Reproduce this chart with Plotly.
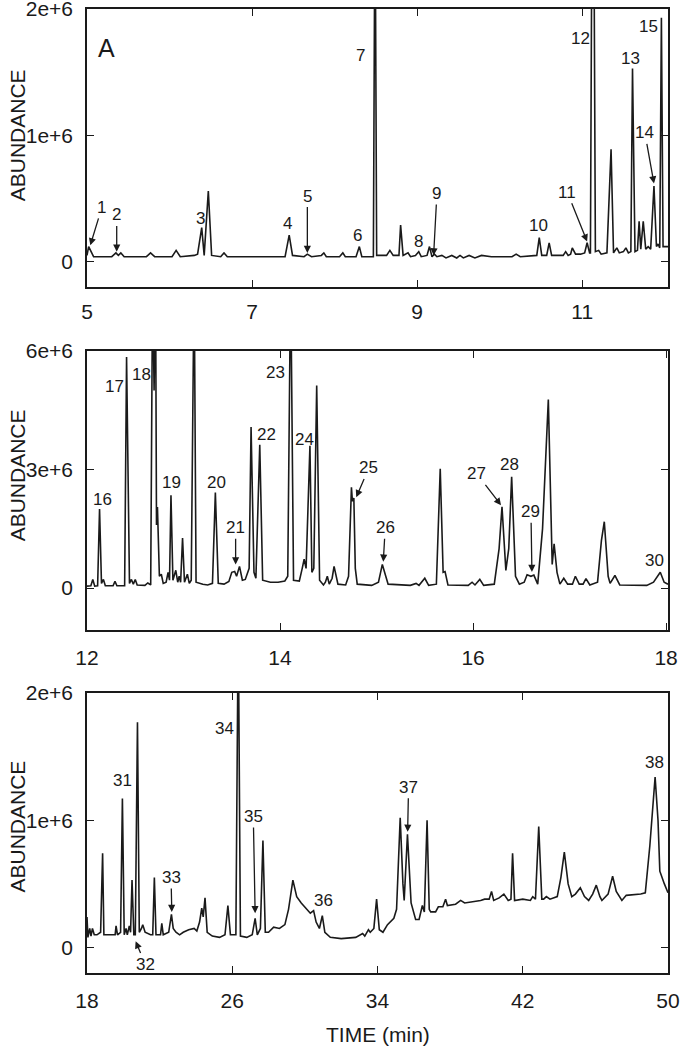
import plotly.graph_objects as go

# ---------------- data (abundance in units of 1e6) ----------------
TIME_A = [5.00, 5.02, 5.08, 5.30, 5.35, 5.38, 5.41, 5.45, 5.72, 5.77, 5.82, 6.03, 6.08, 6.13,
          6.30, 6.34, 6.39, 6.42, 6.47, 6.51, 6.62, 6.66, 6.70, 7.40, 7.45, 7.49, 7.63, 7.67,
          7.72, 7.84, 7.87, 7.90, 8.06, 8.10, 8.13, 8.26, 8.30, 8.33, 8.47, 8.49, 8.51, 8.63,
          8.67, 8.71, 8.78, 8.80, 8.83, 8.89, 8.92, 8.98, 9.02, 9.05, 9.12, 9.15, 9.18, 9.21,
          9.24, 9.30, 9.35, 9.42, 9.48, 9.52, 9.56, 9.63, 9.70, 9.78, 9.90, 10.15, 10.20, 10.25,
          10.45, 10.48, 10.51, 10.57, 10.60, 10.63, 10.77, 10.80, 10.83, 10.86, 10.88, 10.92,
          10.98, 11.03, 11.06, 11.09, 11.10, 11.12, 11.13, 11.14, 11.16, 11.20, 11.23, 11.30,
          11.35, 11.38, 11.42, 11.45, 11.50, 11.53, 11.56, 11.59, 11.61, 11.64, 11.67, 11.69,
          11.71, 11.74, 11.77, 11.80, 11.83, 11.87, 11.90, 11.92, 11.94, 11.96, 11.98, 12.04]
ABUND_A = [0.05, 0.12, 0.04, 0.04, 0.07, 0.05, 0.07, 0.04, 0.04, 0.07, 0.04, 0.04, 0.09, 0.04,
           0.05, 0.06, 0.27, 0.05, 0.56, 0.05, 0.04, 0.07, 0.04, 0.04, 0.21, 0.05, 0.04, 0.06,
           0.04, 0.05, 0.07, 0.04, 0.04, 0.07, 0.04, 0.04, 0.12, 0.04, 0.04, 3.00, 0.05, 0.05,
           0.09, 0.05, 0.05, 0.29, 0.05, 0.07, 0.04, 0.05, 0.08, 0.04, 0.05, 0.12, 0.04, 0.06,
           0.04, 0.05, 0.03, 0.05, 0.03, 0.05, 0.03, 0.05, 0.03, 0.05, 0.04, 0.04, 0.06, 0.04,
           0.05, 0.19, 0.05, 0.05, 0.15, 0.05, 0.05, 0.08, 0.05, 0.06, 0.11, 0.06,
           0.06, 0.07, 0.15, 0.07, 0.07, 3.00, 2.20, 3.00, 0.08, 0.09, 0.06, 0.07,
           0.89, 0.07, 0.11, 0.07, 0.08, 0.11, 0.07, 0.08, 1.53, 0.08, 0.09, 0.32,
           0.10, 0.32, 0.10, 0.12, 0.10, 0.60, 0.12, 0.14, 0.11, 1.93, 0.12, 0.12]

TIME_B = [12.00, 12.04, 12.06, 12.08, 12.11, 12.13, 12.15, 12.17, 12.19, 12.27, 12.29, 12.31,
          12.39, 12.41, 12.44, 12.46, 12.48, 12.50, 12.52, 12.60, 12.63, 12.65, 12.66, 12.68,
          12.695, 12.71, 12.72, 12.73, 12.75, 12.77, 12.79, 12.82, 12.84, 12.855, 12.87, 12.89,
          12.92, 12.94, 12.955, 12.97, 12.99, 13.01, 13.04, 13.06, 13.08, 13.11, 13.13, 13.20,
          13.25, 13.30, 13.33, 13.36, 13.42, 13.47, 13.50, 13.53, 13.55, 13.58, 13.61, 13.64,
          13.68, 13.70, 13.73, 13.75, 13.79, 13.82, 13.90, 13.98, 14.05, 14.08, 14.11, 14.14,
          14.20, 14.23, 14.25, 14.27, 14.31, 14.33, 14.35, 14.38, 14.41, 14.45, 14.47, 14.49,
          14.51, 14.54, 14.56, 14.60, 14.68, 14.71, 14.74, 14.75, 14.765, 14.78, 14.80, 14.95,
          15.00, 15.02, 15.06, 15.09, 15.12, 15.35, 15.41, 15.44, 15.50, 15.54, 15.62, 15.66,
          15.69, 15.71, 15.74, 15.95, 15.99, 16.02, 16.07, 16.11, 16.22, 16.27, 16.30, 16.34,
          16.37, 16.40, 16.44, 16.48, 16.53, 16.56, 16.60, 16.63, 16.67, 16.72, 16.78, 16.82,
          16.84, 16.87, 16.90, 16.94, 16.98, 17.03, 17.06, 17.10, 17.14, 17.17, 17.21, 17.29,
          17.33, 17.36, 17.40, 17.42, 17.47, 17.52, 17.80, 17.87, 17.94, 17.98, 18.02]
ABUND_B = [0.05, 0.06, 0.22, 0.05, 0.06, 2.00, 0.12, 0.22, 0.06, 0.06, 0.17, 0.06,
           0.06, 5.85, 0.12, 0.22, 0.10, 0.22, 0.08, 0.07, 0.13, 0.08, 0.08, 8.00,
           5.00, 8.00, 1.60, 2.05, 0.30, 0.35, 0.12, 0.15, 0.40, 0.20, 2.35, 0.20,
           0.45, 0.15, 0.30, 0.15, 1.27, 0.15, 0.35, 0.12, 0.20, 8.00, 0.15, 0.10,
           0.08, 0.12, 2.42, 0.12, 0.10, 0.17, 0.40, 0.42, 0.30, 0.55, 0.20, 0.22,
           0.50, 4.08, 0.40, 0.25, 3.63, 0.20, 0.15, 0.15, 0.18, 0.30, 8.00, 0.20,
           0.18, 0.50, 0.73, 0.50, 3.60, 0.40, 0.50, 5.13, 0.20, 0.08, 0.15, 0.30,
           0.10, 0.25, 0.55, 0.10, 0.08, 0.30, 2.55, 2.20, 2.28, 0.50, 0.10, 0.07,
           0.12, 0.15, 0.60, 0.35, 0.10, 0.07, 0.12, 0.07, 0.25, 0.07, 0.10, 3.02,
           0.40, 0.42, 0.08, 0.07, 0.15, 0.08, 0.22, 0.07, 0.10, 1.00, 2.06, 0.45,
           1.00, 2.82, 0.30, 0.10, 0.15, 0.34, 0.30, 0.33, 0.10, 1.50, 4.77, 0.60,
           1.12, 0.40, 0.10, 0.25, 0.10, 0.10, 0.30, 0.10, 0.10, 0.24, 0.08, 0.15,
           1.20, 1.68, 0.30, 0.12, 0.32, 0.08, 0.07, 0.15, 0.40, 0.15, 0.10]

TIME_C = [18.00, 18.05, 18.15, 18.22, 18.30, 18.40, 18.55, 18.75, 18.86, 18.93, 19.30, 19.55,
          19.60, 19.68, 19.85, 19.95, 20.05, 20.15, 20.22, 20.33, 20.40, 20.48, 20.58, 20.66,
          20.78, 20.88, 21.00, 21.07, 21.20, 21.50, 21.62, 21.71, 21.80, 22.05, 22.12, 22.20,
          22.50, 22.65, 22.75, 22.90, 23.10, 23.30, 23.60, 23.90, 24.05, 24.20, 24.32, 24.40,
          24.50, 24.62, 24.90, 25.30, 25.60, 25.76, 25.90, 26.20, 26.33, 26.45, 26.80, 27.10,
          27.26, 27.38, 27.55, 27.69, 27.82, 28.00, 28.28, 28.60, 28.90, 29.10, 29.34, 29.55,
          29.80, 30.10, 30.30, 30.48, 30.62, 30.80, 30.96, 31.10, 31.40, 32.00, 32.80, 33.18,
          33.30, 33.50, 33.60, 33.80, 33.95, 34.10, 34.30, 34.55, 34.73, 34.90, 35.05, 35.25,
          35.40, 35.47, 35.65, 35.85, 36.10, 36.29, 36.47, 36.58, 36.73, 36.85, 36.93, 37.20,
          37.35, 37.60, 37.75, 37.85, 38.30, 38.58, 38.80, 39.30, 39.68, 39.90, 40.15, 40.28,
          40.40, 40.70, 40.96, 41.20, 41.35, 41.44, 41.55, 42.00, 42.42, 42.55, 42.70, 42.88,
          43.05, 43.15, 43.30, 43.50, 43.90, 44.10, 44.29, 44.50, 44.70, 44.90, 45.17, 45.40,
          45.63, 45.85, 46.05, 46.25, 46.36, 46.70, 46.95, 47.15, 47.46, 47.70, 48.50, 48.75,
          49.00, 49.29, 49.45, 49.55, 49.62, 49.80, 50.00]
ABUND_C = [0.24, 0.08, 0.15, 0.09, 0.15, 0.10, 0.10, 0.12, 0.74, 0.10, 0.10, 0.10,
           0.17, 0.10, 0.12, 1.17, 0.10, 0.15, 0.10, 0.17, 0.12, 0.53, 0.10, 0.10,
           1.77, 0.12, 0.15, 0.18, 0.12, 0.10, 0.10, 0.55, 0.10, 0.10, 0.19, 0.10,
           0.12, 0.26, 0.15, 0.12, 0.10, 0.12, 0.14, 0.15, 0.13, 0.20, 0.31, 0.24,
           0.39, 0.12, 0.09, 0.08, 0.10, 0.33, 0.10, 0.10, 2.60, 0.09, 0.08, 0.10,
           0.23, 0.10, 0.15, 0.84, 0.12, 0.12, 0.16, 0.15, 0.18, 0.30, 0.53, 0.40,
           0.35, 0.30, 0.27, 0.29, 0.20, 0.15, 0.25, 0.12, 0.08, 0.07, 0.08, 0.11,
           0.09, 0.14, 0.12, 0.15, 0.38, 0.14, 0.12, 0.18, 0.21, 0.23, 0.30, 1.02,
           0.50, 0.37, 0.89, 0.35, 0.22, 0.22, 0.33, 0.28, 1.00, 0.30, 0.28, 0.28,
           0.32, 0.32, 0.38, 0.33, 0.34, 0.37, 0.35, 0.36, 0.37, 0.38, 0.38, 0.44,
           0.37, 0.39, 0.42, 0.37, 0.38, 0.74, 0.37, 0.38, 0.37, 0.40, 0.38, 0.95,
           0.38, 0.38, 0.40, 0.38, 0.40, 0.55, 0.75, 0.50, 0.40, 0.42, 0.47, 0.40,
           0.37, 0.42, 0.49, 0.40, 0.37, 0.42, 0.56, 0.44, 0.37, 0.41, 0.42, 0.43,
           0.80, 1.34, 1.00, 0.60, 0.57, 0.50, 0.43]

# peak labels: (text, label_time, label_abund, arrow_tip_time, arrow_tip_abund)
LABELS_A = [("1", 5.18, 0.43, 5.04, 0.13), ("2", 5.36, 0.37, 5.36, 0.08), ("3", 6.37, 0.34, None, None),
            ("4", 7.43, 0.30, None, None), ("5", 7.67, 0.52, 7.67, 0.07), ("6", 8.28, 0.21, None, None),
            ("7", 8.32, 1.63, None, None), ("8", 9.02, 0.16, None, None), ("9", 9.24, 0.54, 9.20, 0.05),
            ("10", 10.47, 0.29, None, None), ("11", 10.82, 0.55, 11.06, 0.16), ("12", 10.98, 1.77, None, None),
            ("13", 11.58, 1.61, None, None), ("14", 11.76, 1.02, 11.87, 0.62), ("15", 11.80, 1.86, None, None)]
LABELS_B = [("16", 12.16, 2.23, None, None), ("17", 12.29, 5.10, None, None), ("18", 12.56, 5.40, None, None),
            ("19", 12.88, 2.67, None, None), ("20", 13.34, 2.67, None, None), ("21", 13.54, 1.53, 13.54, 0.60),
            ("22", 13.86, 3.88, None, None), ("23", 13.95, 5.45, None, None), ("24", 14.25, 3.75, None, None),
            ("25", 14.92, 3.04, 14.79, 2.30), ("26", 15.09, 1.53, 15.07, 0.67), ("27", 16.04, 2.89, 16.29, 2.10),
            ("28", 16.38, 3.14, None, None), ("29", 16.60, 1.93, 16.61, 0.41), ("30", 17.88, 0.69, None, None)]
LABELS_C = [("31", 19.93, 1.31, None, None), ("32", 21.20, -0.13, 20.68, 0.05), ("33", 22.63, 0.55, 22.67, 0.28),
            ("34", 25.56, 1.72, None, None), ("35", 27.16, 1.03, 27.26, 0.27), ("36", 31.02, 0.37, None, None),
            ("37", 35.71, 1.26, 35.66, 0.91), ("38", 49.23, 1.45, None, None)]

SCALE = 1e6
FONT = "Liberation Sans, Arial, sans-serif"
INK = "#1a1a1a"

fig = go.Figure()
panels = [("x", "y", TIME_A, ABUND_A, LABELS_A),
          ("x2", "y2", TIME_B, ABUND_B, LABELS_B),
          ("x3", "y3", TIME_C, ABUND_C, LABELS_C)]

annotations = []
for xr, yr, t, a, labs in panels:
    fig.add_trace(go.Scatter(x=t, y=[v * SCALE for v in a], mode="lines", xaxis=xr, yaxis=yr,
                             line=dict(color=INK, width=1.6), showlegend=False, hoverinfo="skip"))
    for text, lx, ly, tx, ty in labs:
        if tx is None:
            annotations.append(dict(xref=xr, yref=yr, x=lx, y=ly * SCALE, text=text, showarrow=False,
                                    font=dict(size=17, color=INK, family=FONT)))
        else:
            annotations.append(dict(xref=xr, yref=yr, x=tx, y=ty * SCALE, axref=xr, ayref=yr,
                                    ax=lx, ay=ly * SCALE, text=text, showarrow=True, arrowhead=2,
                                    arrowsize=1.1, arrowwidth=1.3, arrowcolor=INK, standoff=0,
                                    font=dict(size=17, color=INK, family=FONT)))

annotations.append(dict(xref="x", yref="y", x=5.24, y=1.69e6, text="A", showarrow=False,
                        font=dict(size=25, color=INK, family=FONT)))
for yr, mid in [("y", 1.0e6), ("y2", 2.85e6), ("y3", 0.95e6)]:
    annotations.append(dict(xref="paper", yref=yr, x=-0.119, y=mid, text="ABUNDANCE", textangle=-90,
                            showarrow=False, xanchor="center", yanchor="middle",
                            font=dict(size=21, color=INK, family=FONT)))
annotations.append(dict(xref="paper", yref="paper", x=0.5, y=-0.064, text="TIME (min)", showarrow=False,
                        xanchor="center", yanchor="middle", font=dict(size=21, color=INK, family=FONT)))

axis_style = dict(showline=True, linecolor=INK, linewidth=1.5, mirror="ticks", ticks="inside",
                  ticklen=7, tickwidth=1.3, tickcolor=INK, showgrid=False, zeroline=False,
                  automargin=False, ticklabeloverflow="allow",
                  tickfont=dict(size=21, color=INK, family=FONT))

fig.update_layout(
    template="none",
    width=680, height=1050, plot_bgcolor="white", paper_bgcolor="white",
    margin=dict(l=87, r=12, t=9, b=77, autoexpand=False),
    font=dict(family=FONT, color=INK),
    annotations=annotations,
    xaxis=dict(domain=[0, 1], anchor="y", range=[5, 12.04], tickvals=[5, 7, 9, 11], ticklabelstandoff=5, **axis_style),
    yaxis=dict(domain=[0.7116, 1], anchor="x", range=[-0.2e6, 2e6], tickvals=[0, 1e6, 2e6],
               ticktext=["0", "1e+6", "2e+6"], ticklabelstandoff=8, **axis_style),
    xaxis2=dict(domain=[0, 1], anchor="y2", range=[12, 18.02], tickvals=[12, 14, 16, 18], ticklabelstandoff=8, **axis_style),
    yaxis2=dict(domain=[0.3558, 0.6452], anchor="x2", range=[-1.06e6, 6e6], tickvals=[0, 3e6, 6e6],
                ticktext=["0", "3e+6", "6e+6"], ticklabelstandoff=8, **axis_style),
    xaxis3=dict(domain=[0, 1], anchor="y3", range=[18, 50], tickvals=[18, 26, 34, 42, 50], ticklabelstandoff=8, **axis_style),
    yaxis3=dict(domain=[0, 0.2905], anchor="x3", range=[-0.2e6, 2e6], tickvals=[0, 1e6, 2e6],
                ticktext=["0", "1e+6", "2e+6"], ticklabelstandoff=8, **axis_style),
)

fig.write_html("out.html", config={"displayModeBar": False},
               post_script="document.body.style.margin='0';")
